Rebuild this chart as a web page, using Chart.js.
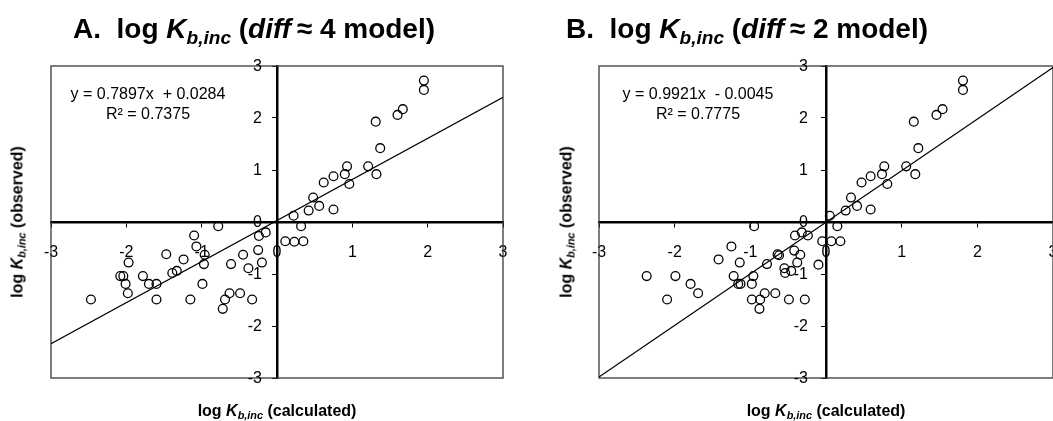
<!DOCTYPE html>
<html>
<head>
<meta charset="utf-8">
<script src="https://cdn.jsdelivr.net/npm/chart.js@4.4.1/dist/chart.umd.min.js"></script>
<style>
  html, body { margin: 0; padding: 0; background: #fff; }
  body { position: relative; width: 1053px; height: 421px; overflow: hidden;
         font-family: "Liberation Sans", Arial, sans-serif; color: #000; }
  .panel { position: absolute; top: 0; height: 421px; }
  .txt { position: absolute; white-space: nowrap; }
  .title { font-size: 28px; font-weight: bold; line-height: 28px; }
  .eq { font-size: 16px; line-height: 20px; text-align: center; width: 220px; }
  .axt { font-size: 16px; font-weight: bold; line-height: 16px; }
  .sub { font-size: 0.68em; position: relative; top: 0.32em; font-style: italic; }
  .ylab { transform: translate(-50%, -50%) rotate(-90deg); }
  .xlab { transform: translateX(-50%); }
</style>
</head>
<body>
<div class="panel" style="left:0;width:527px"><canvas id="chartA" width="527" height="421"></canvas></div>
<div class="panel" style="left:527px;width:560px"><canvas id="chartB" width="560" height="421"></canvas></div>

<div class="txt title" style="left:73px;top:15px">A.&nbsp;&nbsp;log <i>K</i><span class="sub">b,inc</span> (<i>diff</i>&thinsp;≈ 4 model)</div>
<div class="txt title" style="left:566px;top:15px">B.&nbsp;&nbsp;log <i>K</i><span class="sub">b,inc</span> (<i>diff</i>&thinsp;≈ 2 model)</div>

<div class="txt eq" style="left:38px;top:84px">y = 0.7897x &nbsp;+ 0.0284<br>R² = 0.7375</div>
<div class="txt eq" style="left:588px;top:84px">y = 0.9921x &nbsp;- 0.0045<br>R² = 0.7775</div>

<div class="txt axt ylab" style="left:18px;top:222px">log <i>K</i><span class="sub">b,inc</span> (observed)</div>
<div class="txt axt ylab" style="left:567px;top:222px">log <i>K</i><span class="sub">b,inc</span> (observed)</div>
<div class="txt axt xlab" style="left:277px;top:403px">log <i>K</i><span class="sub">b,inc</span> (calculated)</div>
<div class="txt axt xlab" style="left:826px;top:403px">log <i>K</i><span class="sub">b,inc</span> (calculated)</div>

<script>
// Axis ticks shared by both panels
const tickValues = [-3, -2, -1, 0, 1, 2, 3];
const tickLabels = ['-3', '-2', '-1', '0', '1', '2', '3'];

// Panel A: diff ≈ 4 model
const calcA = [1.95, 1.95, 1.67, 1.60, 1.31, 1.37, 1.21, 1.32, 0.93, 0.90, 0.96, 0.75, 0.62, 0.48, 0.56, 0.42, 0.75, 0.22, 0.32,
               0.11, 0.23, 0.35,
               -0.78, -0.15, -0.24, -1.10, -1.07, -0.96, -0.97, -1.47, -1.24, -1.97, -1.33, -1.39, -2.08, -2.04, -2.01, -1.98,
               -2.47, -1.78, -1.70, -1.60, -1.60, -0.99, -1.15, -0.45, -0.61, -0.38, -0.25, -0.20, -0.63, -0.49, -0.69, -0.72, -0.33];
const obsA  = [2.72, 2.54, 2.17, 2.06, 1.93, 1.42, 1.07, 0.92, 1.07, 0.92, 0.73, 0.88, 0.76, 0.47, 0.31, 0.22, 0.24, 0.12, -0.08,
               -0.37, -0.38, -0.37,
               -0.08, -0.20, -0.27, -0.26, -0.47, -0.63, -0.81, -0.62, -0.72, -0.78, -0.94, -0.98, -1.04, -1.04, -1.19, -1.37,
               -1.49, -1.04, -1.19, -1.19, -1.49, -1.19, -1.49, -0.63, -0.81, -0.89, -0.54, -0.78, -1.37, -1.37, -1.49, -1.67, -1.49];
const fitA = { slope: 0.7897, intercept: 0.0284 };

// Panel B: diff ≈ 2 model
const calcB = [1.81, 1.81, 1.54, 1.46, 1.16, 1.22, 1.06, 1.18, 0.77, 0.74, 0.81, 0.59, 0.47, 0.33, 0.41, 0.26, 0.59, 0.05, 0.15,
               -0.05, 0.07, 0.19,
               -0.95, -0.32, -0.41, -0.24, -1.25, -0.42, -0.34, -0.64, -0.62, -1.42, -1.14, -0.38, -0.78, -0.10, -0.55, -0.46,
               -0.54, -2.37, -1.99, -1.22, -0.96, -1.79, -1.16, -1.13, -0.98, -1.69, -0.81, -0.67, -2.10, -0.98, -0.87, -0.49,
               -0.28, -0.88];
const obsB  = [2.72, 2.54, 2.17, 2.06, 1.93, 1.42, 1.07, 0.92, 1.07, 0.92, 0.73, 0.88, 0.76, 0.47, 0.31, 0.22, 0.24, 0.12, -0.08,
               -0.37, -0.37, -0.37,
               -0.08, -0.20, -0.26, -0.26, -0.47, -0.55, -0.63, -0.62, -0.64, -0.72, -0.78, -0.78, -0.81, -0.82, -0.89, -0.94,
               -0.98, -1.04, -1.04, -1.04, -1.04, -1.19, -1.19, -1.19, -1.19, -1.37, -1.37, -1.37, -1.49, -1.49, -1.49, -1.49,
               -1.49, -1.67];
const fitB = { slope: 0.9921, intercept: -0.0045 };

const FONT = '"Liberation Sans", Arial, sans-serif';

// Thin frame around the plotting area
const frame = {
  id: 'frame',
  beforeDatasetsDraw(chart) {
    const a = chart.chartArea, c = chart.ctx;
    c.save();
    c.strokeStyle = '#3a3a3a';
    c.lineWidth = 1.3;
    c.strokeRect(a.left, a.top, a.right - a.left, a.bottom - a.top);
    c.restore();
  }
};

// Vertical-axis tick labels, right-aligned beside the x = 0 axis line
const yTickText = {
  id: 'yTickText',
  afterDatasetsDraw(chart, args, opts) {
    const xs = chart.scales.x, ys = chart.scales.y, c = chart.ctx;
    const x0 = xs.getPixelForValue(0) - opts.gap;
    c.save();
    c.font = '16px ' + FONT;
    c.fillStyle = '#000';
    c.textAlign = 'right';
    c.textBaseline = 'middle';
    ys.ticks.forEach(t => {
      c.fillText(tickLabels[tickValues.indexOf(t.value)], x0, ys.getPixelForValue(t.value) + 1);
    });
    c.restore();
  }
};

function axis(cross, showLabels) {
  return {
    type: 'linear', min: -3, max: 3,
    position: cross,
    afterBuildTicks: s => { s.ticks = tickValues.map(v => ({ value: v })); },
    ticks: {
      display: showLabels,
      callback: v => tickLabels[tickValues.indexOf(v)],
      autoSkip: false, maxRotation: 0,
      color: '#000', font: { family: FONT, size: 16 }, padding: 17
    },
    grid: { drawOnChartArea: false, drawTicks: true, tickLength: 4, color: '#000', lineWidth: 1 },
    border: { display: true, color: '#000', width: 2.5 }
  };
}

function build(id, calc, obs, fit, padding, gap) {
  const points = calc.map((x, i) => ({ x, y: obs[i] }));
  const line = [-3, 3].map(x => ({ x, y: fit.slope * x + fit.intercept }));
  new Chart(document.getElementById(id), {
    type: 'scatter',
    data: {
      datasets: [
        { data: points, pointStyle: 'circle', pointRadius: 4.4, pointBorderWidth: 1.3,
          borderColor: '#000', backgroundColor: 'rgba(0,0,0,0)', pointHoverRadius: 4.4 },
        { data: line, showLine: true, pointRadius: 0, borderColor: '#000', borderWidth: 1.1, fill: false }
      ]
    },
    options: {
      responsive: false, animation: false, devicePixelRatio: 1,
      layout: { padding },
      plugins: { legend: { display: false }, tooltip: { enabled: false }, title: { display: false },
                 yTickText: { gap } },
      events: [],
      scales: { x: axis({ y: 0 }, true), y: axis({ x: 0 }, false) }
    },
    plugins: [frame, yTickText]
  });
}

build('chartA', calcA, obsA, fitA, { left: 51, top: 66, right: 24, bottom: 43 }, 15);
build('chartB', calcB, obsB, fitB, { left: 72, top: 66, right: 34, bottom: 43 }, 18);
</script>
</body>
</html>
